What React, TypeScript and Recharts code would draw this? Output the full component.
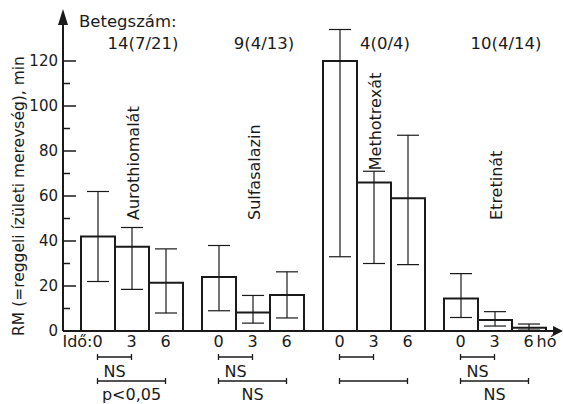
import React from "react";
import { BarChart, Bar, XAxis, YAxis, ErrorBar, LabelList } from "recharts";

// gyógyszercsoportok és betegszám
const gyogyszerek = ["Aurothiomalát", "Sulfasalazin", "Methotrexát", "Etretinát"];
const betegszam = ["14(7/21)", "9(4/13)", "4(0/4)", "10(4/14)"];
const idopontok = ["0", "3", "6"];

// reggeli ízületi merevség (min) 0., 3. és 6. hónapban
const rm0 = [42, 24, 120, 14.5];
const rm3 = [37.5, 8.2, 66, 4.9];
const rm6 = [21.5, 16, 59, 1.5];

// hibasávok [alsó, felső]
const hiba0 = [[20, 20], [15, 14], [87, 14], [8.5, 11]];
const hiba3 = [[19, 8.5], [4.7, 7.6], [36, 5], [2.7, 3.7]];
const hiba6 = [[13.5, 15], [10.2, 10.3], [29.5, 28], [1.1, 1.6]];

// szignifikancia: 0-3 hó és 0-6 hó
const proba03 = ["NS", "NS", "", "NS"];
const proba06 = ["p<0,05", "NS", "", "NS"];

const yTicks = [0, 10, 20, 30, 40, 50, 60, 70, 80, 90, 100, 110, 120];

const data = gyogyszerek.map((nev, i) => ({
  nev,
  rm0: rm0[i],
  rm3: rm3[i],
  rm6: rm6[i],
  hiba0: hiba0[i],
  hiba3: hiba3[i],
  hiba6: hiba6[i],
}));

const FONT = "DejaVu Sans";
const INK = "#1a1a1a";
const BAR_W = 34;

const YTick = (props: any) => {
  const { x, y, payload } = props;
  const v = payload.value;
  const major = v % 20 === 0;
  const ax = x + 5;
  return (
    <g>
      <line x1={ax} x2={ax + (major ? 13 : 7)} y1={y} y2={y} stroke={INK} strokeWidth={1.5} />
      {major && (
        <text x={x} y={y} dy={5} textAnchor="end" fontSize={15} fontFamily={FONT} fill={INK}>
          {v}
        </text>
      )}
    </g>
  );
};

const YCimke = (props: any) => {
  const { x, y, width, height } = props.viewBox;
  const ax = x + width;
  return (
    <g>
      <path d={`M${ax} ${y - 16} L${ax - 5} ${y} L${ax + 5} ${y} Z`} fill={INK} />
      <text
        transform={`translate(${x + 24} ${y + height / 2 + 18}) rotate(-90)`}
        textAnchor="middle"
        fontSize={15.5}
        fontFamily={FONT}
        fill={INK}
      >
        RM (=reggeli ízületi merevség), min
      </text>
    </g>
  );
};

const XCimke = (props: any) => {
  const { x, y, width } = props.viewBox;
  const ex = x + width;
  return <path d={`M${ex - 2} ${y - 5} L${ex + 8} ${y} L${ex - 2} ${y + 5} Z`} fill={INK} />;
};

const Zarojel = ({ x1, x2, y }: { x1: number; x2: number; y: number }) => (
  <g stroke={INK} strokeWidth={1.3}>
    <line x1={x1} x2={x2} y1={y} y2={y} />
    <line x1={x1} x2={x1} y1={y - 3} y2={y + 3} />
    <line x1={x2} x2={x2} y1={y - 3} y2={y + 3} />
  </g>
);

const AlsoTick = (props: any) => {
  const { x, y, payload } = props;
  const i = payload.index ?? props.index ?? 0;
  const txt = { fontSize: 16, fontFamily: FONT, fill: INK } as const;
  return (
    <g>
      {idopontok.map((t, k) => (
        <text key={k} x={x + (k - 1) * BAR_W} y={y + 16} textAnchor="middle" {...txt}>
          {t}
        </text>
      ))}
      {i === 0 && (
        <text x={x - BAR_W - 5} y={y + 16} textAnchor="end" {...txt}>
          Idő:
        </text>
      )}
      {i === gyogyszerek.length - 1 && (
        <text x={x + BAR_W + 8} y={y + 16} textAnchor="start" {...txt}>
          hó
        </text>
      )}
      <Zarojel x1={x - BAR_W} x2={x} y={y + 26} />
      {proba03[i] && (
        <text x={x - BAR_W / 2} y={y + 46} textAnchor="middle" {...txt}>
          {proba03[i]}
        </text>
      )}
      <Zarojel x1={x - BAR_W} x2={x + BAR_W} y={y + 50} />
      {proba06[i] && (
        <text x={x} y={y + 69} textAnchor="middle" {...txt}>
          {proba06[i]}
        </text>
      )}
    </g>
  );
};

// betegszám a csoportok fölött
const BetegszamCimke = (props: any) => {
  const vb = props.viewBox ?? props;
  const i = props.index ?? 0;
  const txt = { fontSize: 16.5, fontFamily: FONT, fill: INK } as const;
  return (
    <g>
      {i === 0 && (
        <text x={vb.x - 2} y={27} textAnchor="start" {...txt}>
          Betegszám:
        </text>
      )}
      <text x={vb.x + vb.width * 1.5 + 11} y={49} textAnchor="middle" {...txt}>
        {betegszam[i]}
      </text>
    </g>
  );
};

const GyogyszerNev = (props: any) => {
  const vb = props.viewBox ?? props;
  const { x, y, width, height } = vb;
  const i = props.index ?? 0;
  const per = height / rm3[i];
  const base = y + height;
  const capY = base - (rm3[i] + hiba3[i][1]) * per;
  const bottom = Math.min(220, capY - 1);
  const cx = x + width / 2 + 7;
  return (
    <text
      transform={`translate(${cx} ${bottom}) rotate(-90)`}
      textAnchor="start"
      fontSize={16}
      fontFamily={FONT}
      fill={INK}
    >
      {gyogyszerek[i]}
    </text>
  );
};

const barStyle = { fill: "#fff", stroke: INK, strokeWidth: 2 };
const errStyle = { stroke: INK, strokeWidth: 1.2, width: 11 };

export default function App() {
  return (
    <div style={{ position: "absolute", left: 0, top: 0, background: "#fff" }}>
      <BarChart
        width={563}
        height={404}
        data={data}
        margin={{ top: 25, right: 8, left: 0, bottom: 0 }}
        barGap={0}
        barSize={BAR_W}
      >
        <XAxis
          dataKey="nev"
          interval={0}
          height={73}
          padding={{ left: 8, right: 0 }}
          tickSize={0}
          tickMargin={0}
          axisLine={{ stroke: INK, strokeWidth: 2 }}
          tickLine={false}
          tick={<AlsoTick />}
          label={{ content: <XCimke /> }}
        />
        <YAxis
          type="number"
          domain={[0, 136]}
          ticks={yTicks}
          interval={0}
          width={63}
          tickSize={0}
          tickMargin={5}
          axisLine={{ stroke: INK, strokeWidth: 2 }}
          tickLine={false}
          tick={<YTick />}
          label={{ content: <YCimke /> }}
          allowDataOverflow
        />
        <Bar dataKey="rm0" {...barStyle} isAnimationActive={false}>
          <ErrorBar dataKey="hiba0" direction="y" {...errStyle} />
          <LabelList dataKey="nev" content={<BetegszamCimke />} />
        </Bar>
        <Bar dataKey="rm3" {...barStyle} isAnimationActive={false}>
          <ErrorBar dataKey="hiba3" direction="y" {...errStyle} />
          <LabelList dataKey="nev" content={<GyogyszerNev />} />
        </Bar>
        <Bar dataKey="rm6" {...barStyle} isAnimationActive={false}>
          <ErrorBar dataKey="hiba6" direction="y" {...errStyle} />
        </Bar>
      </BarChart>
    </div>
  );
}
